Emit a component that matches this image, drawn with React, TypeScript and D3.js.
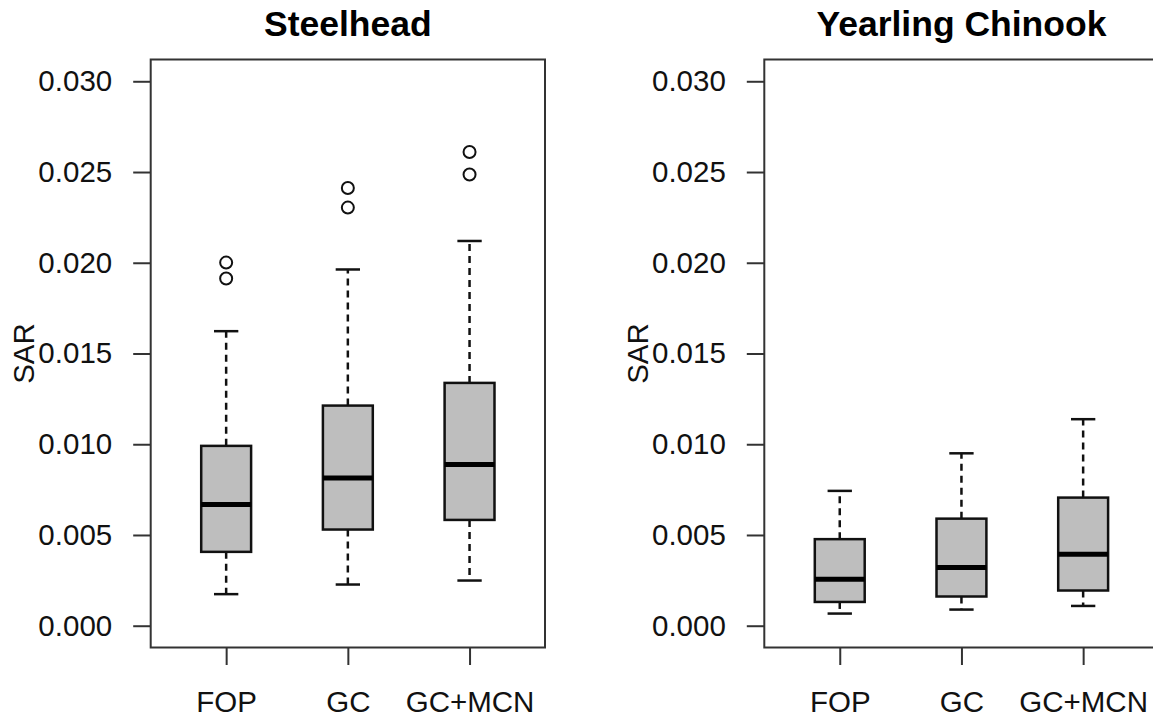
import React, { useEffect, useRef } from "react";
import * as d3 from "d3";

// group labels on the x axis
const groups = ["FOP", "GC", "GC+MCN"];
const yTicks = [0, 0.005, 0.01, 0.015, 0.02, 0.025, 0.03];

// [lower whisker, Q1, median, Q3, upper whisker] per group
const steelheadBoxes = [
  [0.00174, 0.00407, 0.00668, 0.00991, 0.01623],
  [0.00227, 0.0053, 0.00814, 0.01213, 0.01963],
  [0.00249, 0.00583, 0.00888, 0.01338, 0.0212],
];
const steelheadOutliers = [
  [0.02001, 0.01913],
  [0.02412, 0.02304],
  [0.0261, 0.02486],
];

const chinookBoxes = [
  [0.00067, 0.00131, 0.00256, 0.00477, 0.00743],
  [0.00089, 0.00161, 0.00321, 0.0059, 0.0095],
  [0.00109, 0.00194, 0.00394, 0.00706, 0.01138],
];
const chinookOutliers = [[], [], []];

const panels = [
  { title: "Steelhead", boxes: steelheadBoxes, outliers: steelheadOutliers, left: 150.7 },
  { title: "Yearling Chinook", boxes: chinookBoxes, outliers: chinookOutliers, left: 764.3 },
];

const FONT = "'Liberation Sans', Arial, Helvetica, sans-serif";

const App = () => {
  const svgRef = useRef(null);

  useEffect(() => {
    const svg = d3.select(svgRef.current);
    svg.selectAll("*").remove();

    const top = 59.5;
    const bottom = 647.5;
    const plotW = 394.3;

    // R style: ylim (0, 0.03) extended 4% on each side
    const yScale = d3.scaleLinear().domain([-0.0012, 0.0312]).range([bottom, top]);

    panels.forEach((p) => {
      const xScale = d3.scaleLinear().domain([0.38, 3.62]).range([p.left, p.left + plotW]);
      const g = svg.append("g");

      // title
      g.append("text")
        .attr("x", p.left + plotW / 2)
        .attr("y", 36)
        .attr("text-anchor", "middle")
        .style("font-family", FONT)
        .style("font-weight", "bold")
        .style("font-size", "35.5px")
        .text(p.title);

      // y axis
      const yAxis = g.append("g")
        .attr("transform", `translate(${p.left},0)`)
        .call(
          d3.axisLeft(yScale)
            .tickValues(yTicks)
            .tickFormat(d3.format(".3f"))
            .tickSize(17.5)
            .tickPadding(21)
        );
      yAxis.select(".domain").remove();
      yAxis.selectAll("line").attr("stroke", "#333").attr("stroke-width", 2);
      yAxis.selectAll("text")
        .attr("fill", "#111")
        .style("font-family", FONT)
        .style("font-size", "29.5px");

      // x axis
      const xAxis = g.append("g")
        .attr("transform", `translate(0,${bottom})`)
        .call(
          d3.axisBottom(xScale)
            .tickValues([1, 2, 3])
            .tickFormat((d) => groups[d - 1])
            .tickSize(17.5)
            .tickPadding(26)
        );
      xAxis.select(".domain").remove();
      xAxis.selectAll("line").attr("stroke", "#333").attr("stroke-width", 2);
      xAxis.selectAll("text")
        .attr("fill", "#111")
        .style("font-family", FONT)
        .style("font-size", "29.5px");

      // y label
      g.append("text")
        .attr("transform", `translate(${p.left - 116.5},${(top + bottom) / 2}) rotate(-90)`)
        .attr("text-anchor", "middle")
        .attr("fill", "#111")
        .style("font-family", FONT)
        .style("font-size", "29.5px")
        .text("SAR");

      // boxes
      p.boxes.forEach((b, i) => {
        const c = i + 1;
        const [lo, q1, med, q3, hi] = b;
        const x0 = xScale(c - 0.205);
        const x1 = xScale(c + 0.205);
        const cx = xScale(c);
        const capL = xScale(c - 0.1);
        const capR = xScale(c + 0.1);

        // whiskers
        [[q3, hi], [q1, lo]].forEach(([a, z]) => {
          g.append("line")
            .attr("x1", cx).attr("x2", cx)
            .attr("y1", yScale(a)).attr("y2", yScale(z))
            .attr("stroke", "#111")
            .attr("stroke-width", 2.5)
            .attr("stroke-dasharray", "7,5");
          g.append("line")
            .attr("x1", capL).attr("x2", capR)
            .attr("y1", yScale(z)).attr("y2", yScale(z))
            .attr("stroke", "#111")
            .attr("stroke-width", 2.5);
        });

        g.append("rect")
          .attr("x", x0)
          .attr("y", yScale(q3))
          .attr("width", x1 - x0)
          .attr("height", yScale(q1) - yScale(q3))
          .attr("fill", "#BEBEBE")
          .attr("stroke", "#111")
          .attr("stroke-width", 2.5);

        g.append("line")
          .attr("x1", x0).attr("x2", x1)
          .attr("y1", yScale(med)).attr("y2", yScale(med))
          .attr("stroke", "#000")
          .attr("stroke-width", 5);

        g.selectAll(null)
          .data(p.outliers[i])
          .join("circle")
          .attr("cx", cx)
          .attr("cy", (d) => yScale(d))
          .attr("r", 6)
          .attr("fill", "none")
          .attr("stroke", "#111")
          .attr("stroke-width", 2);
      });

      // frame
      g.append("rect")
        .attr("x", p.left)
        .attr("y", top)
        .attr("width", plotW)
        .attr("height", bottom - top)
        .attr("fill", "none")
        .attr("stroke", "#333")
        .attr("stroke-width", 2);
    });
  }, []);

  return (
    <svg
      ref={svgRef}
      width={1153}
      height={717}
      style={{ position: "absolute", left: 0, top: 0, background: "#fff", display: "block" }}
    ></svg>
  );
};

export default App;
